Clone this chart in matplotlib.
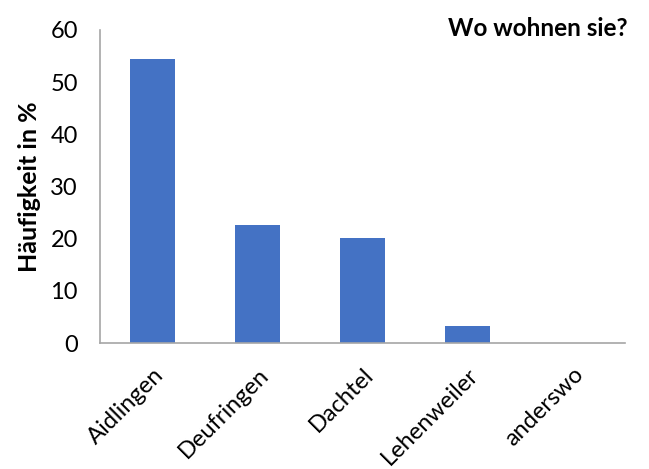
import matplotlib
matplotlib.use("Agg")
import matplotlib.pyplot as plt

categories = ["Aidlingen", "Deufringen", "Dachtel", "Lehenweiler", "anderswo"]
values = [54.5, 22.6, 20.1, 3.2, 0.0]
yticks = [0, 10, 20, 30, 40, 50, 60]

plt.rcParams['font.family'] = ['Lato', 'DejaVu Sans']

fig = plt.figure(figsize=(6.49, 4.69), dpi=100)
ax = fig.add_axes([100/649, 1-343/469, 525/649, 313/469])
x = list(range(len(categories)))
ax.bar(x, values, width=0.42, color="#4472C4")
ax.set_xlim(-0.5, len(categories)-0.5)
ax.set_ylim(0, 60)
ax.set_yticks(yticks)
ax.set_xticks(x)
ax.set_xticklabels(categories, rotation=45, ha='right', rotation_mode='anchor', fontsize=17)
ax.tick_params(axis='y', length=0, labelsize=17, pad=16)
ax.tick_params(axis='x', length=0, pad=15)
for s in ['top', 'right']:
    ax.spines[s].set_visible(False)
for s in ['left', 'bottom']:
    ax.spines[s].set_color('#a6a6a6')
    ax.spines[s].set_linewidth(1.2)
ax.set_ylabel("Häufigkeit in %", fontsize=18, fontweight='bold')
ax.yaxis.set_label_coords(-(100-41)/525, 0.5)
fig.text(628/649, 1-29/469, "Wo wohnen sie?", ha='right', va='center', fontsize=17.5, fontweight='bold')
fig.savefig("out.png", dpi=100)
